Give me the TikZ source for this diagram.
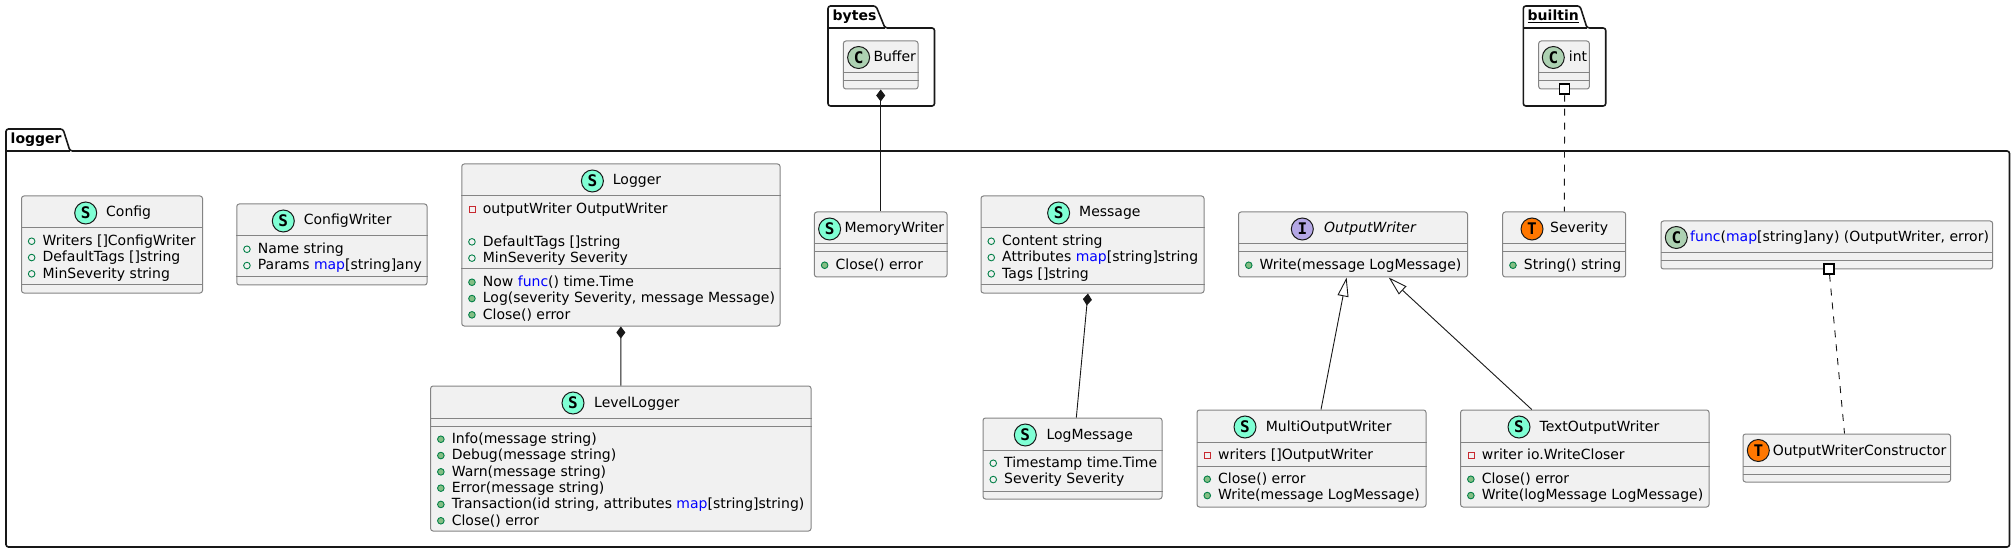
\documentclass[tikz,border=0pt]{standalone}
\usepackage{fontspec}
\setmainfont{DejaVu Sans}
\setmonofont{DejaVu Sans Mono}
\usetikzlibrary{arrows.meta}
\definecolor{umlfill}{HTML}{F1F1F1}
\definecolor{umledge}{HTML}{848484}
\definecolor{umldark}{HTML}{181818}
\definecolor{spotstruct}{HTML}{7FFFD4}
\definecolor{spotclass}{HTML}{ADD1B2}
\definecolor{spotiface}{HTML}{B4A7E5}
\definecolor{spottype}{HTML}{FF7700}
\definecolor{iconred}{HTML}{C82930}
\definecolor{icongreen}{HTML}{038048}
\definecolor{iconfill}{HTML}{84BE84}
\newcommand{\kw}[1]{\textcolor{blue}{#1}}
\tikzset{
    classbox/.style={draw=umledge, line width=1pt, rounded corners=2.5pt, fill=umlfill, inner sep=0pt},
    divider/.style={draw=umledge, line width=1pt},
    pkgline/.style={draw=umldark, line width=1.6pt, rounded corners=2.5pt, fill=white, line join=round},
    pkgtitle/.style={anchor=base west, inner sep=0pt, font=\fontsize{14}{16}\selectfont\bfseries},
    spot/.style={circle, draw=umldark, line width=1pt, minimum size=22pt, inner sep=0pt, font=\fontsize{16}{16}\selectfont\ttfamily\bfseries},
    spotS/.style={spot, fill=spotstruct},
    spotC/.style={spot, fill=spotclass},
    spotI/.style={spot, fill=spotiface},
    spotT/.style={spot, fill=spottype},
    classtitle/.style={anchor=base west, inner sep=0pt, font=\fontsize{14}{16}\selectfont},
    rowtext/.style={anchor=base west, inner sep=0pt, font=\fontsize{14}{16}\selectfont, text height=11pt, text depth=2.5pt},
    roundicon/.style={circle, inner sep=0pt, minimum size=6.6pt, text height=0pt, text depth=0pt, line width=0.9pt, xshift=-7pt},
    pubfield/.style={rowtext, label={[roundicon, draw=icongreen]left:{}}},
    pubmethod/.style={rowtext, label={[roundicon, draw=icongreen, fill=iconfill]left:{}}},
    privfield/.style={rowtext, label={[draw=iconred, line width=0.9pt, inner sep=0pt, minimum size=6pt, text height=0pt, text depth=0pt, xshift=-7pt]left:{}}},
    portbox/.style={draw=black, fill=white, line width=1.2pt, inner sep=0pt, minimum size=10pt},
    composes/.style={{Diamond[length=12pt,width=9pt]}-, draw=umldark, line width=0.9pt},
    extends/.style={-{Triangle[open,length=19pt,width=11pt,fill=white]}, draw=umldark, line width=0.9pt},
    dashedlink/.style={draw=umldark, line width=0.9pt, dash pattern=on 7pt off 7pt}
}
\begin{document}
\begin{tikzpicture}[x=1pt,y=-1pt]
    \useasboundingbox (0,0) rectangle (2015,553);
    % packages
    \draw[pkgline] (6,547) -- (6,129) -- (63,129) -- (70,151) -- (2009.5,151) -- (2009.5,547) -- cycle;
    \draw[pkgline] (6,151) -- (70,151);
    \node[pkgtitle] (loggerpkg) at (10.5,144) {logger};
    \draw[pkgline] (828,106) -- (828,6) -- (876,6) -- (885,28) -- (934.5,28) -- (934.5,106) -- cycle;
    \draw[pkgline] (828,28) -- (885,28);
    \node[pkgtitle] (bytespkg) at (832.5,21) {bytes};
    \draw[pkgline] (1523.3,106) -- (1523.3,6) -- (1580,6) -- (1587,28) -- (1605.7,28) -- (1605.7,106) -- cycle;
    \draw[pkgline] (1523.3,28) -- (1587,28);
    \node[pkgtitle] (builtinpkg) at (1527.5,21) {\underline{builtin}};

    % bytes and builtin
    \node[classbox, minimum width=74.6pt, minimum height=48pt] (buffer) at (880.7,65) {};
    \draw[divider] (buffer.west |- 0,73) -- (buffer.east |- 0,73);
    \draw[divider] (buffer.west |- 0,81) -- (buffer.east |- 0,81);
    \node[spotC] (bufferspot) at (858.6,57.5) {C};
    \node[classtitle] (buffertitle) at (873.3,62) {Buffer};
    \node[classbox, minimum width=50.6pt, minimum height=48pt] (int) at (1564,65) {};
    \draw[divider] (int.west |- 0,73) -- (int.east |- 0,73);
    \draw[divider] (int.west |- 0,81) -- (int.east |- 0,81);
    \node[spotC] (intspot) at (1553.3,57.5) {C};
    \node[classtitle] (inttitle) at (1568.7,62) {int};

    % Config
    \node[classbox, minimum width=181pt, minimum height=97pt] (config) at (112,244.5) {};
    \draw[divider] (config.west |- 0,228) -- (config.east |- 0,228);
    \draw[divider] (config.west |- 0,285) -- (config.east |- 0,285);
    \node[spotS] (configspot) at (85.7,213) {S};
    \node[classtitle] (configtitle) at (106,217) {Config};
    \node[pubfield] (configa) at (42.4,245.5) {Writers []ConfigWriter};
    \node[pubfield] (configb) at (42.4,261.8) {DefaultTags []string};
    \node[pubfield] (configc) at (42.4,278.1) {MinSeverity string};

    % ConfigWriter
    \node[classbox, minimum width=190.3pt, minimum height=81pt] (configwriter) at (331.9,244.5) {};
    \draw[divider] (configwriter.west |- 0,236) -- (configwriter.east |- 0,236);
    \draw[divider] (configwriter.west |- 0,277) -- (configwriter.east |- 0,277);
    \node[spotS] (configwriterspot) at (283.3,221) {S};
    \node[classtitle] (configwritertitle) at (303.7,225) {ConfigWriter};
    \node[pubfield] (configwritera) at (257.7,253.5) {Name string};
    \node[pubfield] (configwriterb) at (257.7,269.8) {Params \kw{map}[string]any};

    % Logger
    \node[classbox, minimum width=318.3pt, minimum height=162pt] (logger) at (620.9,245) {};
    \draw[divider] (logger.west |- 0,196) -- (logger.east |- 0,196);
    \draw[divider] (logger.west |- 0,269) -- (logger.east |- 0,269);
    \node[spotS] (loggerspot) at (592.4,181) {S};
    \node[classtitle] (loggertitle) at (612.7,185) {Logger};
    \node[privfield] (loggera) at (482.7,213.5) {outputWriter OutputWriter};
    \node[pubfield] (loggerb) at (482.7,246.1) {DefaultTags []string};
    \node[pubfield] (loggerc) at (482.7,262.4) {MinSeverity Severity};
    \node[pubmethod] (loggerd) at (482.7,286.5) {Now \kw{func}() time.Time};
    \node[pubmethod] (loggere) at (482.7,302.8) {Log(severity Severity, message Message)};
    \node[pubmethod] (loggerf) at (482.7,319.1) {Close() error};

    % LevelLogger
    \node[classbox, minimum width=380.4pt, minimum height=145pt] (levellogger) at (620.8,458.5) {};
    \draw[divider] (levellogger.west |- 0,418) -- (levellogger.east |- 0,418);
    \draw[divider] (levellogger.west |- 0,426) -- (levellogger.east |- 0,426);
    \node[spotS] (levelloggerspot) at (573,403) {S};
    \node[classtitle] (levelloggertitle) at (594,407) {LevelLogger};
    \node[pubmethod] (levelloggera) at (451.6,443.5) {Info(message string)};
    \node[pubmethod] (levelloggerb) at (451.6,459.8) {Debug(message string)};
    \node[pubmethod] (levelloggerc) at (451.6,476.1) {Warn(message string)};
    \node[pubmethod] (levelloggerd) at (451.6,492.4) {Error(message string)};
    \node[pubmethod] (levelloggere) at (451.6,508.7) {Transaction(id string, attributes \kw{map}[string]string)};
    \node[pubmethod] (levelloggerf) at (451.6,525) {Close() error};

    % MemoryWriter
    \node[classbox, minimum width=132.6pt, minimum height=65pt] (memorywriter) at (880.7,244.5) {};
    \draw[divider] (memorywriter.west |- 0,244) -- (memorywriter.east |- 0,244);
    \draw[divider] (memorywriter.west |- 0,252) -- (memorywriter.east |- 0,252);
    \node[spotS] (memorywriterspot) at (829.6,229) {S};
    \node[classtitle] (memorywritertitle) at (844.3,233) {MemoryWriter};
    \node[pubmethod] (memorywritera) at (835.4,269.5) {Close() error};

    % Message
    \node[classbox, minimum width=223pt, minimum height=97pt] (message) at (1092.5,244.5) {};
    \draw[divider] (message.west |- 0,228) -- (message.east |- 0,228);
    \draw[divider] (message.west |- 0,285) -- (message.east |- 0,285);
    \node[spotS] (messagespot) at (1058.6,213) {S};
    \node[classtitle] (messagetitle) at (1079,217) {Message};
    \node[pubfield] (messagea) at (1002,245.5) {Content string};
    \node[pubfield] (messageb) at (1002,261.8) {Attributes \kw{map}[string]string};
    \node[pubfield] (messagec) at (1002,278.1) {Tags []string};

    % LogMessage
    \node[classbox, minimum width=179pt, minimum height=81pt] (logmessage) at (1072.5,458.5) {};
    \draw[divider] (logmessage.west |- 0,450) -- (logmessage.east |- 0,450);
    \draw[divider] (logmessage.west |- 0,491) -- (logmessage.east |- 0,491);
    \node[spotS] (logmessagespot) at (1025.3,435) {S};
    \node[classtitle] (logmessagetitle) at (1046.3,439) {LogMessage};
    \node[pubfield] (logmessagea) at (1004,467.5) {Timestamp time.Time};
    \node[pubfield] (logmessageb) at (1004,483.8) {Severity Severity};

    % OutputWriter
    \node[classbox, minimum width=229pt, minimum height=65pt] (outputwriter) at (1353,244.5) {};
    \draw[divider] (outputwriter.west |- 0,244) -- (outputwriter.east |- 0,244);
    \draw[divider] (outputwriter.west |- 0,252) -- (outputwriter.east |- 0,252);
    \node[spotI] (outputwriterspot) at (1302.3,229) {I};
    \node[classtitle] (outputwritertitle) at (1323.8,233) {\itshape OutputWriter};
    \node[pubmethod] (outputwritera) at (1259.5,269.5) {Write(message LogMessage)};

    % MultiOutputWriter
    \node[classbox, minimum width=229pt, minimum height=97pt] (multiwriter) at (1311.5,458.5) {};
    \draw[divider] (multiwriter.west |- 0,442) -- (multiwriter.east |- 0,442);
    \draw[divider] (multiwriter.west |- 0,466) -- (multiwriter.east |- 0,466);
    \node[spotS] (multiwriterspot) at (1245,427) {S};
    \node[classtitle] (multiwritertitle) at (1265.7,431) {MultiOutputWriter};
    \node[privfield] (multiwritera) at (1218,459.5) {writers []OutputWriter};
    \node[pubmethod] (multiwriterb) at (1218,483.5) {Close() error};
    \node[pubmethod] (multiwriterc) at (1218,499.8) {Write(message LogMessage)};

    % TextOutputWriter
    \node[classbox, minimum width=248.4pt, minimum height=97pt] (textwriter) at (1584.8,458.5) {};
    \draw[divider] (textwriter.west |- 0,442) -- (textwriter.east |- 0,442);
    \draw[divider] (textwriter.west |- 0,466) -- (textwriter.east |- 0,466);
    \node[spotS] (textwriterspot) at (1519,427) {S};
    \node[classtitle] (textwritertitle) at (1539.4,431) {TextOutputWriter};
    \node[privfield] (textwritera) at (1481.6,459.5) {writer io.WriteCloser};
    \node[pubmethod] (textwriterb) at (1481.6,483.5) {Close() error};
    \node[pubmethod] (textwriterc) at (1481.6,499.8) {Write(logMessage LogMessage)};

    % Severity
    \node[classbox, minimum width=123pt, minimum height=65pt] (severity) at (1564.2,244.5) {};
    \draw[divider] (severity.west |- 0,244) -- (severity.east |- 0,244);
    \draw[divider] (severity.west |- 0,252) -- (severity.east |- 0,252);
    \node[spotT] (severityspot) at (1532,229) {T};
    \node[classtitle] (severitytitle) at (1550,233) {Severity};
    \node[pubmethod] (severitya) at (1523.7,269.5) {String() string};

    % func type and its constructor
    \node[classbox, minimum width=331.6pt, minimum height=48pt] (functype) at (1826.8,245) {};
    \draw[divider] (functype.west |- 0,253) -- (functype.east |- 0,253);
    \draw[divider] (functype.west |- 0,261) -- (functype.east |- 0,261);
    \node[spotC] (functypespot) at (1676.3,237.5) {C};
    \node[classtitle] (functypetitle) at (1690,242) {\kw{func}(\kw{map}[string]any) (OutputWriter, error)};
    \node[classbox, minimum width=207.5pt, minimum height=48pt] (constructor) at (1846.8,458) {};
    \draw[divider] (constructor.west |- 0,466) -- (constructor.east |- 0,466);
    \draw[divider] (constructor.west |- 0,474) -- (constructor.east |- 0,474);
    \node[spotT] (constructorspot) at (1758.3,450.5) {T};
    \node[classtitle] (constructortitle) at (1772.6,455) {OutputWriterConstructor};

    % connectors
    \draw[composes] (buffer) -- (memorywriter);
    \draw[composes] (logger) -- (levellogger);
    \draw[composes] (message) -- (logmessage);
    \draw[extends] (multiwriter) -- (outputwriter);
    \draw[extends] (textwriter) -- (outputwriter);
    \node[portbox] (intport) at (1564.7,89) {};
    \node[portbox] (funcport) at (1829,269) {};
    \draw[dashedlink] (intport) -- (severity);
    \draw[dashedlink] (funcport) -- (constructor);
\end{tikzpicture}
\end{document}
